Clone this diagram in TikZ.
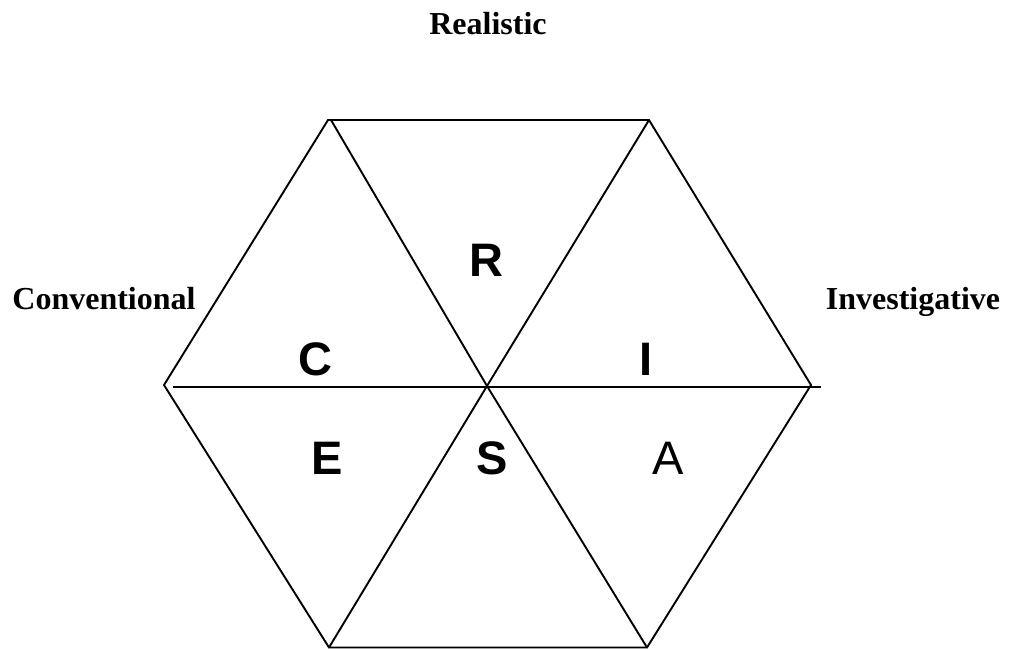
\documentclass[tikz,border=0pt]{standalone}
\usepackage{fontspec}
\setmainfont{Liberation Serif}
\setsansfont{Liberation Sans}

\begin{document}
\begin{tikzpicture}[
		x=1pt,
		y=-1pt,
		line width=1.9pt,
		edge/.style={draw,line join=miter},
		label/.style={font=\fontsize{32}{36}\selectfont\bfseries,anchor=base},
		letter/.style={font=\fontsize{47}{50}\selectfont\sffamily\bfseries,anchor=base},
		plain/.style={font=\fontsize{47}{50}\selectfont\sffamily,anchor=base}
		]
		\useasboundingbox (0,0) rectangle (1011,649);
		
		% =====================================================
		% Hexagon corners
		% =====================================================
		\coordinate (tl) at (328,120);
		\coordinate (tr) at (649,120);
		\coordinate (rt) at (811,385);
		\coordinate (br) at (647,647.5);
		\coordinate (bl) at (329,647.5);
		\coordinate (lf) at (164,385);
		\coordinate (mid) at (487,386);
		\coordinate (hl) at (173,387);
		\coordinate (hr) at (821,387);
		
		% outline
		\draw[edge] (tl) -- (tr) -- (rt) -- (br) -- (bl) -- (lf) -- cycle;
		
		% inner lines
		\draw[edge] (hl) -- (hr);
		\draw[edge] (tl) ++(3,0) -- (mid) -- (br);
		\draw[edge] (tr) -- (mid) -- (bl);
		
		% =====================================================
		% Type names
		% =====================================================
		\node[label] (real) at (488,34) {Realistic};
		\node[label] (conv) at (104,309) {Conventional};
		\node[label] (inv) at (913,309) {Investigative};
		
		% =====================================================
		% Letters in the triangles
		% =====================================================
		\node[letter] (R) at (486,276) {R};
		\node[letter] (C) at (315,375) {C};
		\node[letter] (I) at (646.5,375) {I};
		\node[letter] (E) at (327,474) {E};
		\node[letter] (S) at (492,474) {S};
		\node[plain] (A) at (668,474) {A};
		
	\end{tikzpicture}
\end{document}
